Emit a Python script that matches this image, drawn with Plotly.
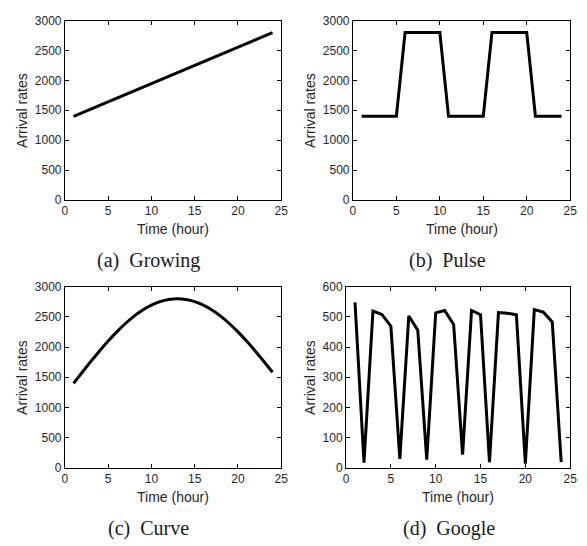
import plotly.graph_objects as go

# Hourly time axis
hours = list(range(1, 25))

# Arrival-rate workloads (requests per hour)
growing = [1400, 1461, 1522, 1583, 1643, 1704, 1765, 1826, 1887, 1948, 2009, 2070,
           2130, 2191, 2252, 2313, 2374, 2435, 2496, 2557, 2617, 2678, 2739, 2800]
pulse = [1400, 1400, 1400, 1400, 1400, 2800, 2800, 2800, 2800, 2800, 1400, 1400,
         1400, 1400, 1400, 2800, 2800, 2800, 2800, 2800, 1400, 1400, 1400, 1400]
curve = [1400, 1583, 1762, 1936, 2100, 2252, 2390, 2511, 2612, 2693, 2752, 2788,
         2800, 2788, 2752, 2693, 2612, 2511, 2390, 2252, 2100, 1936, 1762, 1583]
google = [548, 17, 519, 508, 469, 30, 503, 456, 27, 513, 521, 475,
          44, 521, 507, 19, 514, 512, 507, 14, 524, 516, 483, 19]

captions = ["(a)  Growing", "(b)  Pulse", "(c)  Curve", "(d)  Google"]
series = [growing, pulse, curve, google]
y_ranges = [[0, 3000], [0, 3000], [0, 3000], [0, 600]]
y_steps = [500, 500, 500, 100]

W, H = 587, 546
# panel boxes in pixels: left, right, top, bottom
boxes = [(63, 283, 14, 198), (356, 577, 14, 198),
         (63, 283, 287, 473), (349, 577, 287, 473)]
# caption centres span the whole sub-figure, not just the plot box
caption_x = [148, 452, 148, 454]
ylabel_x = [20, 313, 20, 313]

tick_font = dict(family="Liberation Sans, Arial", size=12, color="#262626")
title_font = dict(family="Liberation Sans, Arial", size=14, color="#262626")
cap_font = dict(family="Liberation Serif, Times New Roman", size=20, color="#1a1a1a")

fig = go.Figure()
annotations = []
layout_axes = {}
for i, (ys, box) in enumerate(zip(series, boxes)):
    n = "" if i == 0 else str(i + 1)
    l, r, t, b = box
    shape = "spline" if i == 2 else "linear"
    fig.add_trace(go.Scatter(x=hours, y=ys, mode="lines",
                             line=dict(color="black", width=3, shape=shape),
                             xaxis="x" + n, yaxis="y" + n, showlegend=False))
    common = dict(showline=True, linecolor="black", linewidth=1, mirror="ticks",
                  ticks="inside", ticklen=4, tickcolor="black", showgrid=False,
                  zeroline=False, tickfont=tick_font, fixedrange=True)
    layout_axes["xaxis" + n] = dict(domain=[l / W, r / W], anchor="y" + n,
                                    range=[0, 25], dtick=5, tick0=0, **common)
    layout_axes["yaxis" + n] = dict(domain=[1 - b / H, 1 - t / H], anchor="x" + n,
                                    range=y_ranges[i], dtick=y_steps[i], tick0=0,
                                    **common)
    cx = (l + r) / 2
    annotations.append(dict(text="Time (hour)", x=cx / W, y=1 - (b + 30) / H,
                            xref="paper", yref="paper", showarrow=False,
                            font=title_font, xanchor="center", yanchor="middle"))
    annotations.append(dict(text="Arrival rates", x=ylabel_x[i] / W,
                            y=1 - (t + b) / 2 / H,
                            xref="paper", yref="paper", showarrow=False, textangle=-90,
                            font=title_font, xanchor="center", yanchor="middle"))
    annotations.append(dict(text=captions[i], x=caption_x[i] / W, y=1 - (b + 62) / H,
                            xref="paper", yref="paper", showarrow=False,
                            font=cap_font, xanchor="center", yanchor="middle"))

fig.update_layout(width=W, height=H, autosize=False,
                  margin=dict(l=0, r=0, t=0, b=0),
                  paper_bgcolor="white", plot_bgcolor="white",
                  annotations=annotations, **layout_axes)

fig.write_html("out.html", config={"displayModeBar": False})
